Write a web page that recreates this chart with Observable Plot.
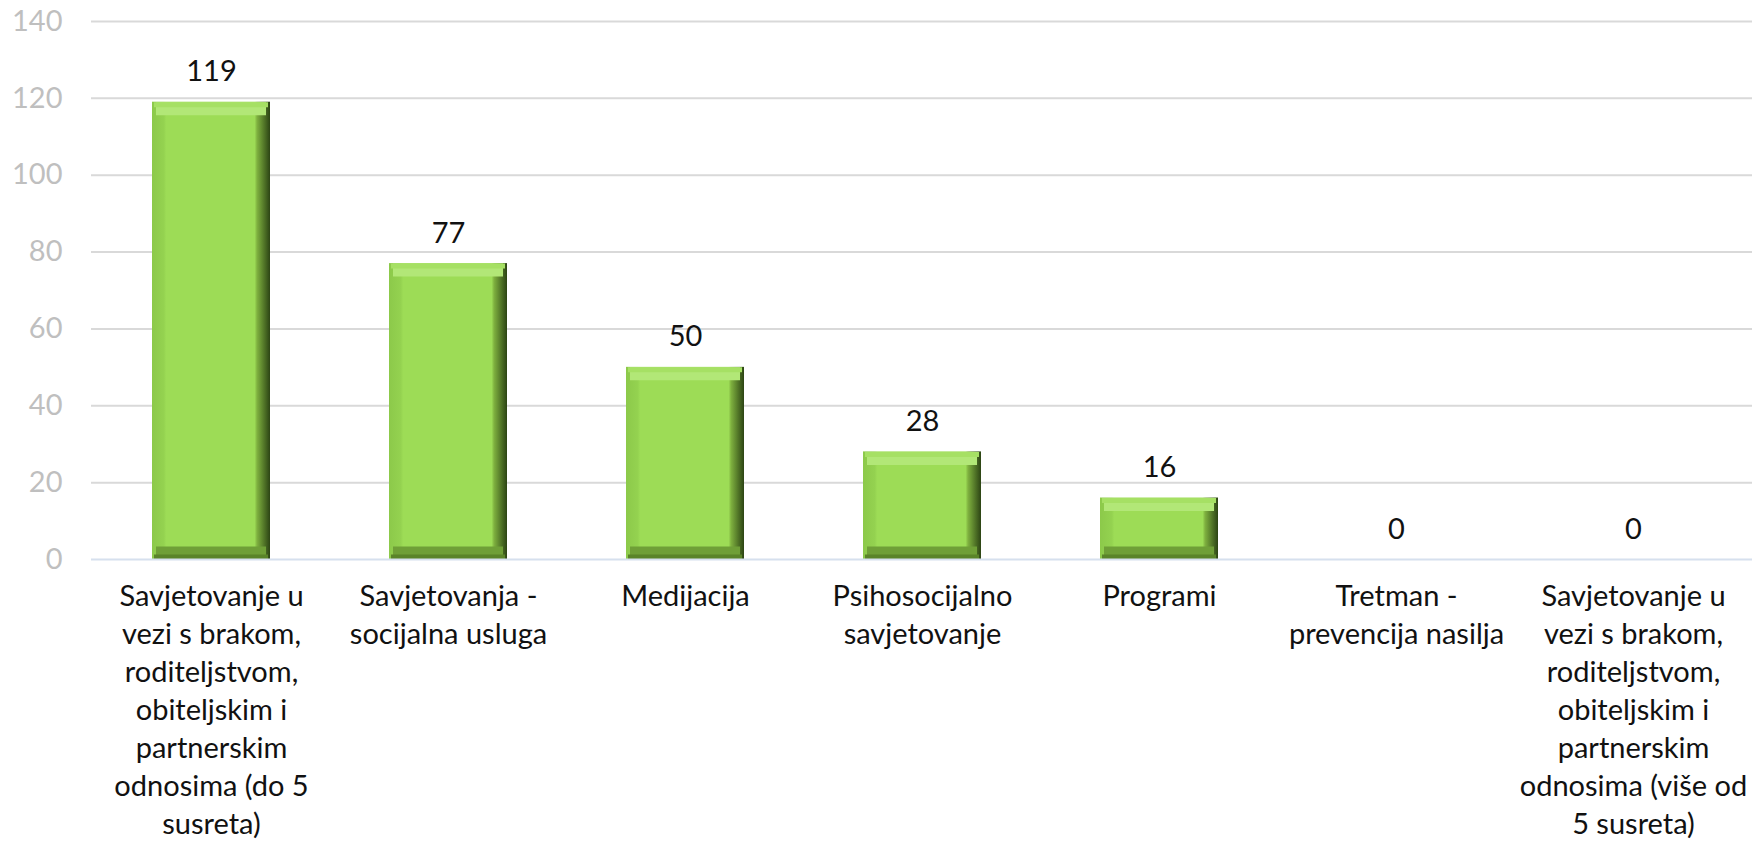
<!DOCTYPE html>
<html>
<head>
<meta charset="utf-8">
<script src="https://cdn.jsdelivr.net/npm/d3@7"></script>
<script src="https://cdn.jsdelivr.net/npm/@observablehq/plot@0.6"></script>
<style>
  html, body { margin: 0; padding: 0; background: #fff; }
  #chart svg { display: block; }
</style>
</head>
<body>
<div id="chart"></div>
<script>
const categories = [
  "Savjetovanje u vezi s brakom, roditeljstvom, obiteljskim i partnerskim odnosima (do 5 susreta)",
  "Savjetovanja - socijalna usluga",
  "Medijacija",
  "Psihosocijalno savjetovanje",
  "Programi",
  "Tretman - prevencija nasilja",
  "Savjetovanje u vezi s brakom, roditeljstvom, obiteljskim i partnerskim odnosima (više od 5 susreta)"
];
const values = [119, 77, 50, 28, 16, 0, 0];
const tickLabels = [
  "Savjetovanje u\nvezi s brakom,\nroditeljstvom,\nobiteljskim i\npartnerskim\nodnosima (do 5\nsusreta)",
  "Savjetovanja -\nsocijalna usluga",
  "Medijacija",
  "Psihosocijalno\nsavjetovanje",
  "Programi",
  "Tretman -\nprevencija nasilja",
  "Savjetovanje u\nvezi s brakom,\nroditeljstvom,\nobiteljskim i\npartnerskim\nodnosima (više od\n5 susreta)"
];
const yTicks = [0, 20, 40, 60, 80, 100, 120, 140];

const data = categories.map((c, i) => ({category: c, value: values[i], label: tickLabels[i]}));
const labelOf = new Map(data.map(d => [d.category, d.label]));
const nonZero = data.filter(d => d.value > 0);

const defs = () => {
  const g = d3.create("svg:defs");
  const lg = g.append("linearGradient").attr("id", "barGrad").attr("x1", 0).attr("x2", 1).attr("y1", 0).attr("y2", 0);
  [[0, "#8cc94a"], [0.1, "#94d250"], [0.12, "#9ddc56"], [0.87, "#9ddc56"], [0.89, "#7fb13f"], [1, "#2c4414"]]
    .forEach(([o, c]) => lg.append("stop").attr("offset", o).attr("stop-color", c));
  return g.node();
};

const chart = Plot.plot({
  width: 1760,
  height: 846,
  marginTop: 21,
  marginBottom: 287,
  marginLeft: 91,
  marginRight: 8,
  style: {fontFamily: "Lato, 'Open Sans', sans-serif", fontSize: "29px", background: "#fff"},
  x: {domain: categories, paddingInner: 0.503, paddingOuter: 0.2515, label: null},
  y: {domain: [0, 140], ticks: yTicks, label: null},
  marks: [
    defs,
    Plot.gridY(yTicks.filter(t => t > 0), {stroke: "#d9d9d9", strokeOpacity: 1, strokeWidth: 2}),
    Plot.axisY(yTicks, {tickSize: 0, tickPadding: 29, fill: "#bfbfbf", fontSize: 29, label: null}),
    Plot.axisX({
      tickSize: 0, tickPadding: 20, fill: "#111", fontSize: 29, lineHeight: 1.31,
      tickFormat: d => labelOf.get(d), label: null, textAnchor: "middle"
    }),
    Plot.barY(nonZero, {x: "category", y: "value", fill: "url(#barGrad)"}),
    Plot.tickY(nonZero, {x: "category", y: "value", stroke: "#b2e777", strokeWidth: 13, dy: 6.5, inset: 4}),
    Plot.tickY(nonZero, {x: "category", y: "value", stroke: "#a6e064", strokeWidth: 5, dy: 2.5, inset: 2}),
    Plot.tickY(nonZero, {x: "category", y: 0, stroke: "#6f9f37", strokeWidth: 13, dy: -6.5, inset: 4}),
    Plot.tickY(nonZero, {x: "category", y: 0, stroke: "#5a8429", strokeWidth: 5, dy: -2.5, inset: 2}),
    Plot.ruleY([0], {stroke: "#d6e0ee", strokeWidth: 2}),
    Plot.text(data, {x: "category", y: "value", text: d => String(d.value), dy: -21, lineAnchor: "bottom", fill: "#111", fontSize: 29})
  ]
});
document.getElementById("chart").appendChild(chart);
</script>
</body>
</html>
